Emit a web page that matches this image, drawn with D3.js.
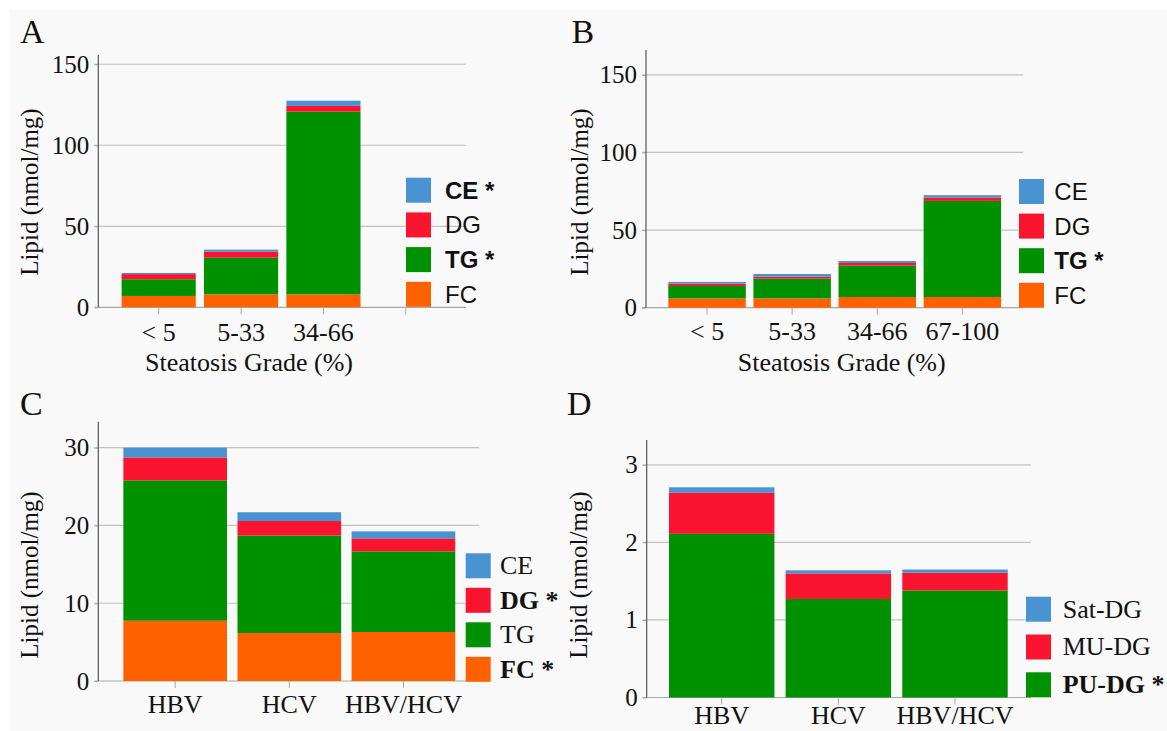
<!DOCTYPE html>
<html>
<head>
<meta charset="utf-8">
<script src="https://cdn.jsdelivr.net/npm/d3@7"></script>
<style>
  body { margin: 0; background: #fff; }
  svg { display: block; }
</style>
</head>
<body>
<svg id="chart" width="1167" height="731"></svg>
<script>
// ---- data ----
// Panel A: steatosis grade (Study 1)
var catsA = ["< 5", "5-33", "34-66"];
var ticksA = ["< 5", "5-33", "34-66", ""];
var fcA = [7.0, 8.0, 8.0];
var tgA = [10.3, 22.6, 112.7];
var dgA = [3.2, 3.7, 3.6];
var ceA = [0.7, 1.3, 3.2];

// Panel B: steatosis grade (Study 2)
var catsB = ["< 5", "5-33", "34-66", "67-100"];
var fcB = [6.0, 6.0, 6.9, 6.9];
var tgB = [8.0, 12.7, 20.2, 61.9];
var dgB = [1.5, 1.3, 1.7, 2.2];
var ceB = [1.1, 1.7, 1.3, 1.5];

// Panel C: virus type
var catsC = ["HBV", "HCV", "HBV/HCV"];
var fcC = [7.75, 6.17, 6.3];
var tgC = [18.05, 12.53, 10.37];
var dgC = [2.95, 1.87, 1.67];
var ceC = [1.25, 1.13, 0.9];

// Panel D: DG saturation
var catsD = ["HBV", "HCV", "HBV/HCV"];
var puD = [2.11, 1.27, 1.38];
var muD = [0.53, 0.33, 0.23];
var satD = [0.07, 0.04, 0.04];

var yTicksAB = [0, 50, 100, 150];
var yTicksC = [0, 10, 20, 30];
var yTicksD = [0, 1, 2, 3];

var colors = {
  "CE": "#4a93d3", "DG": "#fa1430", "TG": "#009100", "FC": "#ff6100",
  "Sat-DG": "#4a93d3", "MU-DG": "#fa1430", "PU-DG": "#009100"
};

var serif = "'Liberation Serif', 'Times New Roman', serif";
var sans = "'Liberation Sans', Arial, sans-serif";

var svg = d3.select("#chart");

// light gray panel background
svg.append("rect")
  .attr("x", 9).attr("y", 10)
  .attr("width", 1158).attr("height", 721)
  .attr("fill", "#f9f9f9");

function drawPanel(p) {
  var g = svg.append("g");

  // build rows for d3.stack
  var rows = p.cats.map(function(c, i) {
    var r = {cat: c};
    p.keys.forEach(function(k, j) { r[k] = p.values[j][i]; });
    return r;
  });

  var x = d3.scaleBand()
    .domain(p.domain)
    .range(p.xRange)
    .paddingInner(p.pad)
    .paddingOuter(p.pad / 2);

  var y = d3.scaleLinear()
    .domain([0, p.yMax])
    .range([p.y0, p.yTop]);

  // gridlines (the 0 line doubles as the x baseline)
  g.selectAll("line.grid")
    .data(p.yTicks)
    .enter()
    .append("line")
    .attr("class", "grid")
    .attr("x1", p.axisX - 4)
    .attr("x2", function(d) { return d === 0 ? p.baseEnd : p.gridEnd; })
    .attr("y1", function(d) { return y(d); })
    .attr("y2", function(d) { return y(d); })
    .attr("stroke", function(d) { return d === 0 ? "#a8a8a8" : "#c2c2c2"; })
    .attr("stroke-width", 1.2);

  // stacked bars
  var series = d3.stack().keys(p.keys)(rows);
  g.selectAll("g.layer")
    .data(series)
    .enter()
    .append("g")
    .attr("fill", function(d) { return colors[d.key]; })
    .selectAll("rect")
    .data(function(d) { return d; })
    .enter()
    .append("rect")
    .attr("x", function(d) { return x(d.data.cat); })
    .attr("width", x.bandwidth())
    .attr("y", function(d) { return y(d[1]); })
    .attr("height", function(d) { return y(d[0]) - y(d[1]); });

  // y axis
  var yAxis = d3.axisLeft(y)
    .tickValues(p.yTicks)
    .tickFormat(d3.format("d"))
    .tickSize(4)
    .tickPadding(5);
  var ya = g.append("g")
    .attr("transform", "translate(" + p.axisX + ",0)")
    .call(yAxis);
  ya.select(".domain").remove();
  ya.selectAll(".tick line").attr("stroke", "#a8a8a8");
  ya.selectAll(".tick text")
    .attr("font-family", serif)
    .attr("font-size", "25px")
    .attr("fill", "#111");
  g.append("line")
    .attr("x1", p.axisX).attr("x2", p.axisX)
    .attr("y1", p.yTop).attr("y2", p.y0)
    .attr("stroke", "#555")
    .attr("stroke-width", 1.2);

  // x axis
  var xAxis = d3.axisBottom(x).tickSize(7).tickSizeOuter(0).tickPadding(p.xPad);
  var xa = g.append("g")
    .attr("transform", "translate(0," + p.y0 + ")")
    .call(xAxis);
  xa.select(".domain").remove();
  xa.selectAll(".tick line").attr("stroke", "#a8a8a8");
  xa.selectAll(".tick text")
    .attr("font-family", serif)
    .attr("font-size", "26px")
    .attr("fill", "#111");

  // panel letter
  g.append("text")
    .attr("x", p.letterX).attr("y", p.letterY)
    .attr("font-family", serif)
    .attr("font-size", "34px")
    .attr("fill", "#111")
    .text(p.letter);

  // y title
  g.append("text")
    .attr("transform", "translate(" + p.yTitleX + "," + p.yTitleY + ") rotate(-90)")
    .attr("text-anchor", "middle")
    .attr("font-family", serif)
    .attr("font-size", "25px")
    .attr("fill", "#111")
    .text("Lipid (nmol/mg)");

  // x title
  if (p.xTitle) {
    g.append("text")
      .attr("x", p.xTitleX).attr("y", p.xTitleY)
      .attr("text-anchor", "middle")
      .attr("font-family", serif)
      .attr("font-size", "26px")
      .attr("fill", "#111")
      .text(p.xTitle);
  }

  // legend
  var lg = g.append("g")
    .attr("transform", "translate(" + p.legX + "," + p.legY + ")");
  p.legend.forEach(function(item, i) {
    lg.append("rect")
      .attr("x", 0).attr("y", i * p.legStep)
      .attr("width", 25).attr("height", 25)
      .attr("fill", colors[item.key]);
    lg.append("text")
      .attr("x", p.legTextDx)
      .attr("y", i * p.legStep + 12.5 + 8.5)
      .attr("font-family", p.legFont)
      .attr("font-size", p.legSize)
      .attr("font-weight", item.star ? "bold" : "normal")
      .attr("fill", "#111")
      .text(item.star ? item.key + " *" : item.key);
  });
}

var legFour = function(stars) {
  return ["CE", "DG", "TG", "FC"].map(function(k) {
    return {key: k, star: stars.indexOf(k) >= 0};
  });
};

drawPanel({
  letter: "A", letterX: 20, letterY: 43,
  cats: catsA, domain: ticksA,
  keys: ["FC", "TG", "DG", "CE"], values: [fcA, tgA, dgA, ceA],
  xRange: [117.5, 447], pad: 0.1, xPad: 8,
  yMax: 155.7, y0: 307.3, yTop: 55, yTicks: yTicksAB,
  axisX: 98.3, gridEnd: 466, baseEnd: 466,
  yTitleX: 37.5, yTitleY: 192,
  xTitle: "Steatosis Grade (%)", xTitleX: 249, xTitleY: 371,
  legX: 406, legY: 177.7, legStep: 34.7, legTextDx: 39,
  legFont: sans, legSize: "24px", legend: legFour(["CE", "TG"])
});

drawPanel({
  letter: "B", letterX: 571.5, letterY: 43,
  cats: catsB, domain: catsB,
  keys: ["FC", "TG", "DG", "CE"], values: [fcB, tgB, dgB, ceB],
  xRange: [664.5, 1004.9], pad: 0.09, xPad: 7,
  yMax: 166, y0: 307.7, yTop: 50, yTicks: yTicksAB,
  axisX: 646, gridEnd: 1023.3, baseEnd: 1023,
  yTitleX: 587.5, yTitleY: 192,
  xTitle: "Steatosis Grade (%)", xTitleX: 841.7, xTitleY: 371,
  legX: 1019, legY: 179, legStep: 34.6, legTextDx: 35.3,
  legFont: sans, legSize: "24px", legend: legFour(["TG"])
});

drawPanel({
  letter: "C", letterX: 20, letterY: 415,
  cats: catsC, domain: catsC,
  keys: ["FC", "TG", "DG", "CE"], values: [fcC, tgC, dgC, ceC],
  xRange: [118.1, 460.5], pad: 0.092, xPad: 6.5,
  yMax: 33.34, y0: 681, yTop: 421.7, yTicks: yTicksC,
  axisX: 98.3, gridEnd: 479.3, baseEnd: 466,
  yTitleX: 37.5, yTitleY: 575,
  xTitle: null,
  legX: 465.7, legY: 553.3, legStep: 34.5, legTextDx: 34.3,
  legFont: serif, legSize: "26px", legend: legFour(["DG", "FC"])
});

drawPanel({
  letter: "D", letterX: 567, letterY: 415,
  cats: catsD, domain: catsD,
  keys: ["PU-DG", "MU-DG", "Sat-DG"], values: [puD, muD, satD],
  xRange: [663.4, 1013.3], pad: 0.096, xPad: 1.5,
  yMax: 3.32, y0: 697.5, yTop: 440, yTicks: yTicksD,
  axisX: 646.7, gridEnd: 1030.7, baseEnd: 1030.7,
  yTitleX: 587, yTitleY: 575,
  xTitle: null,
  legX: 1026, legY: 596.7, legStep: 37.8, legTextDx: 36.7,
  legFont: serif, legSize: "26px",
  legend: [{key: "Sat-DG", star: false}, {key: "MU-DG", star: false}, {key: "PU-DG", star: true}]
});
</script>
</body>
</html>
